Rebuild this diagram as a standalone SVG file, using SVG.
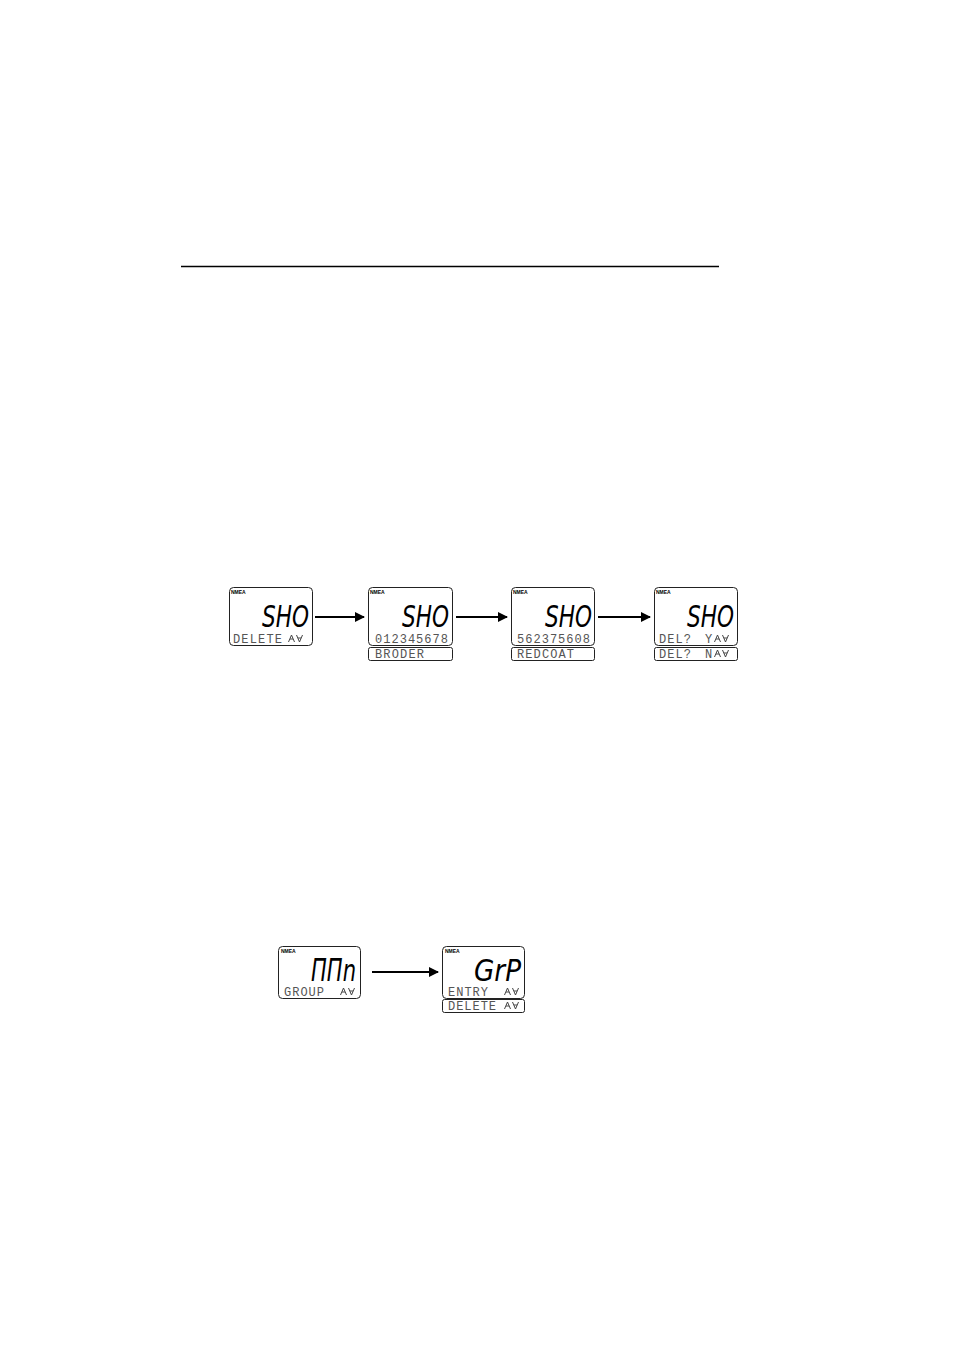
<svg xmlns="http://www.w3.org/2000/svg" xmlns:xlink="http://www.w3.org/1999/xlink" width="954" height="1351" viewBox="0 0 954 1351">
<style>
.lcd{fill:#fff;stroke:#222;stroke-width:1}
.nmea{font-family:"Liberation Sans",Arial,sans-serif;font-size:5px;font-weight:bold;fill:#000}
.big{font-family:"DejaVu Sans","Liberation Sans",sans-serif;font-size:31px;font-weight:200;font-style:italic;fill:#000}
.sm{font-family:"Liberation Mono","DejaVu Sans Mono",monospace;font-size:12px;fill:#555}
.conn{stroke:#000;stroke-width:2;fill:none}
.ico{fill:none;stroke:#444;stroke-width:1}
</style>
<defs>
<marker id="ah" viewBox="0 0 10 10" refX="9" refY="5" markerWidth="5" markerHeight="5" orient="auto" markerUnits="strokeWidth">
<path d="M0,0 L10,5 L0,10 Z" fill="#000"/>
</marker>
<g id="ud">
<path class="ico" d="M0.5,8 L3.5,1 L6.5,8 M2,5 H5"/>
<path class="ico" d="M8.5,1 L11.5,8 L14.5,1 M10,4 H13"/>
</g>
</defs>
<line x1="181" y1="266.5" x2="719" y2="266.5" stroke="#000" stroke-width="1.5"/>

<g id="lcd1">
<rect class="lcd" x="229.5" y="587.5" width="83" height="58" rx="4"/>
<text class="nmea" x="231" y="594">NMEA</text>
<text class="big" x="262" y="627" textLength="47" lengthAdjust="spacingAndGlyphs">SHO</text>
<text class="sm" x="233" y="643" textLength="49" lengthAdjust="spacing">DELETE</text>
<use xlink:href="#ud" x="288" y="634"/>
</g>

<g id="lcd2">
<rect class="lcd" x="368.5" y="587.5" width="84" height="58" rx="4"/>
<text class="nmea" x="370" y="594">NMEA</text>
<text class="big" x="402" y="627" textLength="47" lengthAdjust="spacingAndGlyphs">SHO</text>
<text class="sm" x="375" y="643" textLength="73" lengthAdjust="spacing">012345678</text>
<rect class="lcd" x="368.5" y="647.5" width="84" height="13" rx="2"/>
<text class="sm" x="375" y="658" textLength="49" lengthAdjust="spacing">BRODER</text>
</g>

<g id="lcd3">
<rect class="lcd" x="511.5" y="587.5" width="83" height="58" rx="4"/>
<text class="nmea" x="513" y="594">NMEA</text>
<text class="big" x="545" y="627" textLength="47" lengthAdjust="spacingAndGlyphs">SHO</text>
<text class="sm" x="517" y="643" textLength="73" lengthAdjust="spacing">562375608</text>
<rect class="lcd" x="511.5" y="647.5" width="83" height="13" rx="2"/>
<text class="sm" x="517" y="658" textLength="57" lengthAdjust="spacing">REDCOAT</text>
</g>

<g id="lcd4">
<rect class="lcd" x="654.5" y="587.5" width="83" height="58" rx="4"/>
<text class="nmea" x="656" y="594">NMEA</text>
<text class="big" x="687" y="627" textLength="47" lengthAdjust="spacingAndGlyphs">SHO</text>
<text class="sm" x="659" y="643" textLength="32" lengthAdjust="spacing">DEL?</text>
<text class="sm" x="705" y="643">Y</text>
<use xlink:href="#ud" x="714" y="634"/>
<rect class="lcd" x="654.5" y="647.5" width="83" height="13" rx="2"/>
<text class="sm" x="659" y="658" textLength="32" lengthAdjust="spacing">DEL?</text>
<text class="sm" x="705" y="658">N</text>
<use xlink:href="#ud" x="714" y="649"/>
</g>

<g id="lcd5">
<rect class="lcd" x="278.5" y="946.5" width="82" height="52" rx="4"/>
<text class="nmea" x="281" y="953">NMEA</text>
<text class="big" x="311" y="981" font-size="28" textLength="45" lengthAdjust="spacingAndGlyphs">ΠΠn</text>
<text class="sm" x="284" y="996" textLength="40" lengthAdjust="spacing">GROUP</text>
<use xlink:href="#ud" x="340" y="987"/>
</g>

<g id="lcd6">
<rect class="lcd" x="442.5" y="946.5" width="82" height="52" rx="4"/>
<text class="nmea" x="445" y="953">NMEA</text>
<text class="big" x="474" y="981" font-size="28" textLength="47" lengthAdjust="spacingAndGlyphs">GrP</text>
<text class="sm" x="448" y="996" textLength="40" lengthAdjust="spacing">ENTRY</text>
<use xlink:href="#ud" x="504" y="987"/>
<rect class="lcd" x="442.5" y="999.5" width="82" height="13" rx="2"/>
<text class="sm" x="448" y="1010" textLength="48" lengthAdjust="spacing">DELETE</text>
<use xlink:href="#ud" x="504" y="1001"/>
</g>

<g id="connectors">
<line class="conn" x1="315" y1="617" x2="364" y2="617" marker-end="url(#ah)"/>
<line class="conn" x1="456" y1="617" x2="507" y2="617" marker-end="url(#ah)"/>
<line class="conn" x1="598" y1="617" x2="650" y2="617" marker-end="url(#ah)"/>
<line class="conn" x1="372" y1="972" x2="438" y2="972" marker-end="url(#ah)"/>
</g>
</svg>
